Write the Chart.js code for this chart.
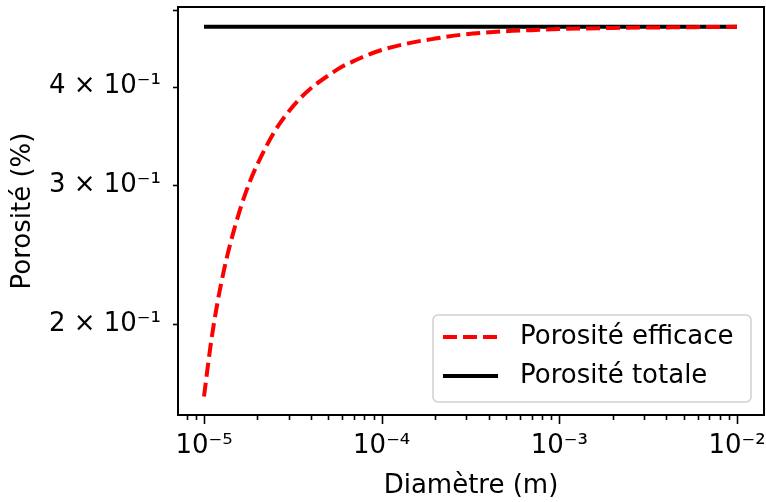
<!DOCTYPE html>
<html>
<head>
<meta charset="utf-8">
<script src="https://cdn.jsdelivr.net/npm/chart.js@4.4.1/dist/chart.umd.min.js"></script>
<style>
  html, body { margin: 0; padding: 0; background: #fff; }
  #wrap { width: 766px; height: 502px; }
</style>
</head>
<body>
<div id="wrap"><canvas id="myChart" width="766" height="502"></canvas></div>
<script>
// data
const diametre = [1e-5, 1.1e-5, 1.2e-5, 1.3e-5, 1.4e-5, 1.6e-5, 1.8e-5, 2e-5, 2.5e-5, 3e-5, 3.5e-5, 4e-5,
    5e-5, 6e-5, 7e-5, 8e-5, 1e-4, 1.5e-4, 2e-4, 3e-4, 5e-4, 7e-4, 1e-3, 2e-3, 5e-3, 1e-2];
const porositeEfficace = [0.162, 0.191, 0.215, 0.235, 0.252, 0.280, 0.302, 0.319, 0.351, 0.372, 0.387, 0.398,
    0.413, 0.424, 0.431, 0.437, 0.445, 0.455, 0.460, 0.466, 0.470, 0.4715, 0.473, 0.4745, 0.4755, 0.476];
const porositeTotale = [0.476, 0.476, 0.476, 0.476, 0.476, 0.476, 0.476, 0.476, 0.476, 0.476, 0.476, 0.476,
    0.476, 0.476, 0.476, 0.476, 0.476, 0.476, 0.476, 0.476, 0.476, 0.476, 0.476, 0.476, 0.476, 0.476];

const xTickValues = [1e-5, 1e-4, 1e-3, 1e-2];
const xTickLabels = ['10\u207B\u2075', '10\u207B\u2074', '10\u207B\u00B3', '10\u207B\u00B2'];
const yTickValues = [0.2, 0.3, 0.4, 0.5];
const yTickLabels = ['2 \u00D7 10\u207B\u00B9', '3 \u00D7 10\u207B\u00B9', '4 \u00D7 10\u207B\u00B9', ''];

const FONT = '"DejaVu Sans", sans-serif';

// cadre, graduations (majeures + mineures) et légende façon matplotlib
const mplStyle = {
    id: 'mplStyle',
    afterDatasetsDraw(chart) {
        const { ctx, chartArea: a, scales } = chart;
        const sx = scales.x, sy = scales.y;
        ctx.save();
        ctx.strokeStyle = '#000';
        ctx.lineWidth = 2;
        ctx.strokeRect(a.left, a.top, a.right - a.left, a.bottom - a.top);

        // x ticks
        ctx.lineWidth = 1.6;
        for (let e = -6; e <= -1; e++) {
            for (let m = 1; m <= 9; m++) {
                const v = m * Math.pow(10, e);
                if (v < sx.min || v > sx.max) continue;
                const px = Math.round(sx.getPixelForValue(v)) + 0.5;
                const len = m === 1 ? 9 : 5;
                ctx.beginPath();
                ctx.moveTo(px, a.bottom);
                ctx.lineTo(px, a.bottom + len);
                ctx.stroke();
            }
        }
        // y ticks
        yTickValues.forEach(v => {
            const py = Math.round(sy.getPixelForValue(v)) + 0.5;
            ctx.beginPath();
            ctx.moveTo(a.left, py);
            ctx.lineTo(a.left - 5, py);
            ctx.stroke();
        });
        ctx.restore();
    },
    afterDraw(chart) {
        const { ctx, chartArea: a } = chart;
        const ds = chart.data.datasets;
        const boxR = a.right - 13, boxB = a.bottom - 13;
        const boxL = boxR - 318, boxT = boxB - 87;
        ctx.save();
        ctx.beginPath();
        ctx.roundRect(boxL, boxT, boxR - boxL, boxB - boxT, 5);
        ctx.fillStyle = 'rgba(255,255,255,0.8)';
        ctx.fill();
        ctx.strokeStyle = '#d0d0d0';
        ctx.lineWidth = 1.5;
        ctx.stroke();

        const rows = [boxT + 22, boxT + 61];
        ds.forEach((d, i) => {
            ctx.beginPath();
            ctx.strokeStyle = d.borderColor;
            ctx.lineWidth = d.borderWidth;
            ctx.setLineDash(d.borderDash || []);
            ctx.lineCap = 'butt';
            ctx.moveTo(boxL + 10, rows[i]);
            ctx.lineTo(boxL + 65, rows[i]);
            ctx.stroke();
            ctx.setLineDash([]);
            ctx.fillStyle = '#000';
            ctx.font = '26px ' + FONT;
            ctx.textBaseline = 'middle';
            ctx.textAlign = 'left';
            ctx.fillText(d.label, boxL + 87, rows[i]);
        });
        ctx.restore();
    }
};

const ctx = document.getElementById('myChart');
const myChart = new Chart(ctx, {
    type: 'line',
    data: {
        datasets: [{
            label: 'Porosité efficace',
            data: diametre.map((d, i) => ({ x: d, y: porositeEfficace[i] })),
            borderColor: '#ff0000',
            borderWidth: 4,
            borderDash: [14, 6],
            pointRadius: 0,
            cubicInterpolationMode: 'monotone',
            fill: false
        }, {
            label: 'Porosité totale',
            data: diametre.map((d, i) => ({ x: d, y: porositeTotale[i] })),
            borderColor: '#000000',
            borderWidth: 4,
            pointRadius: 0,
            fill: false
        }]
    },
    options: {
        responsive: false,
        animation: false,
        devicePixelRatio: 1,
        layout: { padding: { left: 0, right: 2, top: 7, bottom: 0 } },
        plugins: {
            legend: { display: false },
            tooltip: { enabled: false }
        },
        scales: {
            x: {
                type: 'logarithmic',
                min: 7.14e-6,
                max: 1.419e-2,
                afterBuildTicks: s => { s.ticks = xTickValues.map(v => ({ value: v })); },
                afterFit: s => { s.height = 87; s.paddingLeft = 0; s.paddingRight = 0; },
                grid: { display: false, drawTicks: true, tickLength: 9 },
                border: { display: false },
                ticks: {
                    autoSkip: false,
                    maxRotation: 0,
                    minRotation: 0,
                    padding: 7,
                    color: '#000',
                    font: { family: FONT, size: 26 },
                    callback: (v) => {
                        const i = xTickValues.indexOf(v);
                        return i >= 0 ? xTickLabels[i] : '';
                    }
                },
                title: {
                    display: true,
                    text: 'Diamètre (m)',
                    color: '#000',
                    font: { family: FONT, size: 26 },
                    padding: { top: 0, bottom: 0 }
                }
            },
            y: {
                type: 'logarithmic',
                min: 0.1535,
                max: 0.5044,
                afterBuildTicks: s => { s.ticks = yTickValues.map(v => ({ value: v })); },
                afterFit: s => { s.width = 178; s.paddingTop = 0; s.paddingBottom = 0; },
                grid: { display: false, drawTicks: true, tickLength: 5 },
                border: { display: false },
                ticks: {
                    autoSkip: false,
                    padding: 12,
                    color: '#000',
                    font: { family: FONT, size: 26 },
                    callback: (v) => {
                        const i = yTickValues.indexOf(v);
                        return i >= 0 ? yTickLabels[i] : '';
                    }
                },
                title: {
                    display: true,
                    text: 'Porosité (%)',
                    color: '#000',
                    font: { family: FONT, size: 26 },
                    padding: { top: 8, bottom: 0 }
                }
            }
        }
    },
    plugins: [mplStyle]
});
</script>
</body>
</html>
